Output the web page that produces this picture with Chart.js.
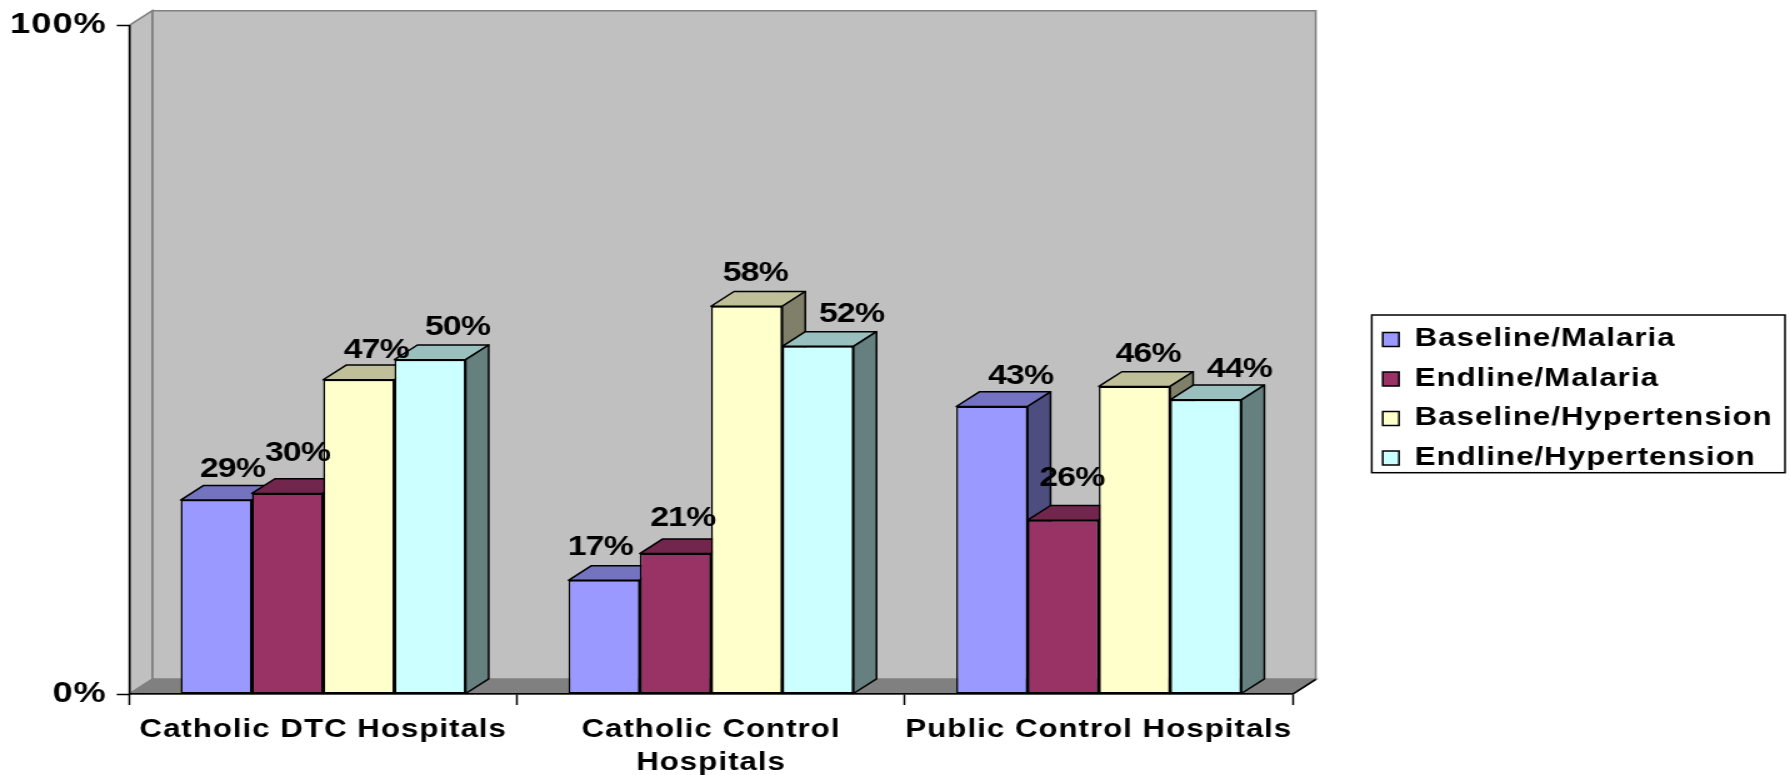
<!DOCTYPE html>
<html>
<head>
<meta charset="utf-8">
<title>Hospitals</title>
<script src="https://cdn.jsdelivr.net/npm/chart.js@4"></script>
<style>
    html, body { margin: 0; padding: 0; background: #fff; overflow: hidden; }
</style>
</head>
<body>
<!-- wide type: the canvas is laid out narrower and stretched to full width -->
<canvas id="chart" width="1432" height="775" style="display:block;width:1790px;height:775px"></canvas>
<script>
const categories = ['Catholic DTC Hospitals', ['Catholic Control', 'Hospitals'], 'Public Control Hospitals'];
const seriesNames = ['Baseline/Malaria', 'Endline/Malaria', 'Baseline/Hypertension', 'Endline/Hypertension'];
const baselineMalaria = [29, 17, 43];
const endlineMalaria = [30, 21, 26];
const baselineHypertension = [47, 58, 46];
const endlineHypertension = [50, 52, 44];

const seriesColors = ['#9999FF', '#993366', '#FFFFCC', '#CCFFFF'];
const topColors = ['#7373BF', '#73264D', '#BFBF99', '#99BFBF'];
const sideColors = ['#4D4D80', '#4D1A33', '#80806A', '#668080'];

// how far each value label sits from the top centre of its bar, per series then category
const labelNudge = [
    [[13, -31], [-3, -33], [23, -30]],
    [[8, -40], [6, -35], [7, -42]],
    [[14, -29], [7, -33], [11, -32]],
    [[22, -32], [27, -32], [27, -30]]
];

const depthX = 18.4;
const depthY = 14.7;
const legendBox = { left: 1097.4, top: 315, right: 1428, bottom: 472.7 };

function polygon(ctx, points, fill, stroke) {
    ctx.beginPath();
    points.forEach(([x, y], i) => i ? ctx.lineTo(x, y) : ctx.moveTo(x, y));
    ctx.closePath();
    ctx.fillStyle = fill;
    ctx.fill();
    if (stroke) {
        ctx.strokeStyle = stroke;
        ctx.stroke();
    }
}

function drawDepth(ctx, bar, i) {
    const l = bar.x - bar.width / 2;
    const r = bar.x + bar.width / 2;
    polygon(ctx, [[l, bar.y], [l + depthX, bar.y - depthY], [r + depthX, bar.y - depthY], [r, bar.y]], topColors[i], '#000');
    polygon(ctx, [[r, bar.y], [r + depthX, bar.y - depthY], [r + depthX, bar.base - depthY], [r, bar.base]], sideColors[i], '#000');
}

const box3d = {
    id: 'box3d',
    beforeDraw(chart) {
        const { ctx, chartArea: { left, right, top, bottom } } = chart;
        ctx.letterSpacing = '0.8px';
        ctx.save();
        ctx.lineWidth = 1.6;
        const wall = '#C0C0C0';
        const edge = '#808080';
        // back wall, side wall and floor
        polygon(ctx, [[left + depthX, top - depthY], [right + depthX, top - depthY], [right + depthX, bottom - depthY], [left + depthX, bottom - depthY]], wall, edge);
        polygon(ctx, [[left, top], [left + depthX, top - depthY], [left + depthX, bottom - depthY], [left, bottom]], wall, edge);
        polygon(ctx, [[left, bottom], [left + depthX, bottom - depthY], [right + depthX, bottom - depthY], [right, bottom]], edge, edge);
        ctx.strokeStyle = '#000';
        ctx.beginPath();
        ctx.moveTo(right, bottom);
        ctx.lineTo(right + depthX, bottom - depthY);
        ctx.stroke();
        // legend frame
        ctx.lineWidth = 1.5;
        ctx.strokeStyle = '#000';
        ctx.strokeRect(legendBox.left, legendBox.top, legendBox.right - legendBox.left, legendBox.bottom - legendBox.top);
        ctx.restore();
    },
    afterLayout(chart) {
        // the legend stays out of the layout, it only gets moved next to the plot
        const legend = chart.legend;
        legend.left = legendBox.left - 5.7;
        legend.right = legendBox.right;
        legend.top = legendBox.top - 2.5;
        // a bit of slack below, otherwise the last entry wraps to a second column
        legend.bottom = legendBox.bottom + 20;
    },
    beforeDatasetsDraw(chart) {
        const { ctx } = chart;
        // left to right, so each series paints over the side faces of the one before
        chart.data.datasets.forEach((ds, i) => {
            const meta = chart.getDatasetMeta(i);
            ctx.save();
            ctx.lineWidth = 1.5;
            ctx.lineJoin = 'round';
            meta.data.forEach(bar => drawDepth(ctx, bar, i));
            ctx.restore();
            meta.controller.draw();
        });

        ctx.save();
        ctx.letterSpacing = '-0.6px';
        ctx.font = 'bold 27px "Liberation Sans", Arial, sans-serif';
        ctx.fillStyle = '#000';
        ctx.textAlign = 'center';
        ctx.textBaseline = 'middle';
        chart.data.datasets.forEach((ds, i) => {
            chart.getDatasetMeta(i).data.forEach((bar, j) => {
                const [dx, dy] = labelNudge[i][j];
                ctx.fillText(ds.data[j] + '%', bar.x + dx, bar.y + dy);
            });
        });
        ctx.restore();
        return false;
    }
};

const seriesValues = [baselineMalaria, endlineMalaria, baselineHypertension, endlineHypertension];

new Chart(document.getElementById('chart'), {
    type: 'bar',
    plugins: [box3d],
    data: {
        labels: categories,
        datasets: seriesNames.map((name, i) => ({
            label: name,
            data: seriesValues[i],
            backgroundColor: seriesColors[i],
            borderColor: '#000',
            borderWidth: 1.5,
            borderSkipped: false,
            barPercentage: 1,
            categoryPercentage: 0.735
        }))
    },
    options: {
        responsive: false,
        animation: false,
        devicePixelRatio: 1,
        layout: { padding: { left: 0, right: 397.8, top: 23.5, bottom: 0 } },
        scales: {
            x: {
                afterFit(scale) { scale.height = 81; },
                grid: { offset: true, drawOnChartArea: false, color: '#000', tickLength: 11, tickWidth: 1.5 },
                border: { color: '#000', width: 1.5 },
                ticks: {
                    color: '#000',
                    padding: 9,
                    maxRotation: 0,
                    autoSkip: false,
                    font: { family: '"Liberation Sans", Arial, sans-serif', size: 25, weight: 'bold', lineHeight: 1.3 }
                }
            },
            y: {
                min: 0,
                max: 100,
                afterFit(scale) { scale.width = 103.4; },
                grid: { drawOnChartArea: false, color: '#000', tickLength: 10, tickWidth: 1.5 },
                border: { color: '#000', width: 1.5 },
                ticks: {
                    stepSize: 100,
                    color: '#000',
                    padding: 8,
                    callback: value => value + '%',
                    font: { family: '"Liberation Sans", Arial, sans-serif', size: 29, weight: 'bold' }
                }
            }
        },
        plugins: {
            tooltip: { enabled: false },
            legend: {
                position: 'chartArea',
                align: 'start',
                labels: {
                    color: '#000',
                    boxWidth: 13,
                    boxHeight: 14,
                    padding: 14.5,
                    font: { family: '"Liberation Sans", Arial, sans-serif', size: 25, weight: 'bold' }
                }
            }
        }
    }
});
</script>
</body>
</html>
